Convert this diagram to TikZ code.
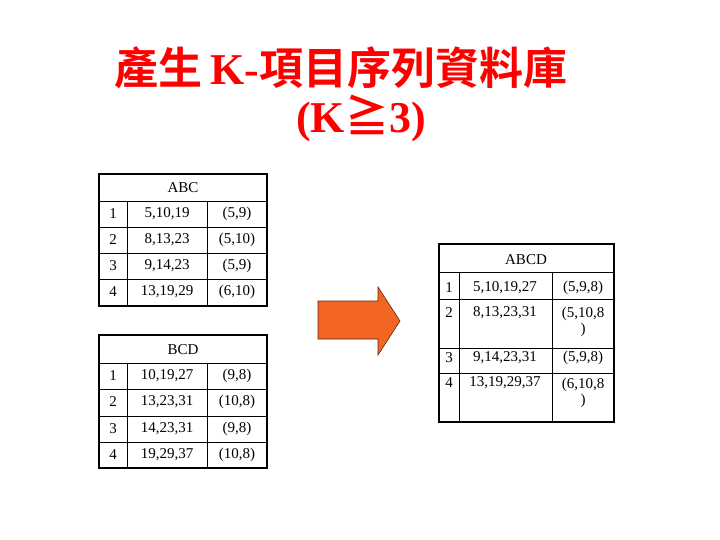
\documentclass[tikz,border=0pt]{standalone}
\usepackage{fontspec}
\setmainfont{Liberation Serif}
\newfontfamily\cjk{Noto Sans CJK TC}[BoldFont=* Bold]
\begin{document}
\begin{tikzpicture}[x=1pt,y=-1pt,
  cell/.style={font=\fontsize{15}{16}\selectfont,inner sep=0pt},
  grid/.style={line width=0.8pt},
  outer/.style={line width=1.8pt},
  title/.style={text=red,font=\fontsize{44}{48}\selectfont\bfseries,inner sep=0pt}]
\useasboundingbox (0,0) rectangle (720,540);
\node[title] (t1) at (341,68) {{\cjk 產生}\,K-{\cjk 項目序列資料庫}};
\node[title] (t2) at (361,118) {(K{\cjk ≧}3)};
% ABC
\draw[grid] (99,201)--(267,201) (99,227)--(267,227) (99,253)--(267,253) (99,279)--(267,279)
  (127,201)--(127,306) (207,201)--(207,306);
\draw[outer] (99,174) rectangle (267,306);
\node[cell] (abc) at (183,188) {ABC};
\foreach \y/\n/\a/\b in {214/1/{5,10,19}/{(5,9)},240/2/{8,13,23}/{(5,10)},266/3/{9,14,23}/{(5,9)},292/4/{13,19,29}/{(6,10)}}{
  \node[cell] (abcn\n) at (113,\y) {\n};
  \node[cell] (abca\n) at (167,\y) {\a};
  \node[cell] (abcb\n) at (237,\y) {\b};}
% BCD
\draw[grid] (99,363)--(267,363) (99,389)--(267,389) (99,416)--(267,416) (99,442)--(267,442)
  (127,363)--(127,468) (207,363)--(207,468);
\draw[outer] (99,335) rectangle (267,468);
\node[cell] (bcd) at (183,350) {BCD};
\foreach \y/\n/\a/\b in {376/1/{10,19,27}/{(9,8)},402/2/{13,23,31}/{(10,8)},429/3/{14,23,31}/{(9,8)},455/4/{19,29,37}/{(10,8)}}{
  \node[cell] (bcdn\n) at (113,\y) {\n};
  \node[cell] (bcda\n) at (167,\y) {\a};
  \node[cell] (bcdb\n) at (237,\y) {\b};}
% ABCD
\draw[grid] (439,272)--(614,272) (439,299)--(614,299) (439,348)--(614,348) (439,373)--(614,373)
  (459,272)--(459,422) (552,272)--(552,422);
\draw[outer] (439,244) rectangle (614,422);
\node[cell] (abcd) at (526,260) {ABCD};
\node[cell] (d1) at (449,288) {1};
\node[cell] (d1a) at (505,288) {5,10,19,27};
\node[cell] (d1b) at (583,288) {(5,9,8)};
\node[cell] (d2) at (449,313) {2};
\node[cell] (d2a) at (505,313) {8,13,23,31};
\node[cell,align=center] (d2b) at (583,322) {(5,10,8\\)};
\node[cell] (d3) at (449,358) {3};
\node[cell] (d3a) at (505,358) {9,14,23,31};
\node[cell] (d3b) at (583,358) {(5,9,8)};
\node[cell] (d4) at (449,383) {4};
\node[cell] (d4a) at (505,383) {13,19,29,37};
\node[cell,align=center] (d4b) at (583,393) {(6,10,8\\)};
% arrow
\draw[fill={rgb,255:red,242;green,101;blue,34},draw={rgb,255:red,90;green,40;blue,10},line width=0.6pt]
  (318,301)--(378,301)--(378,287)--(400,321)--(378,355)--(378,339)--(318,339)--cycle;
\end{tikzpicture}
\end{document}
